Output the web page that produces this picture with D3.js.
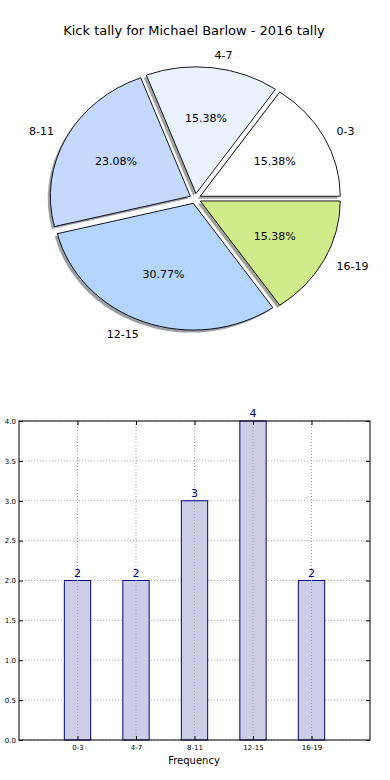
<!DOCTYPE html>
<html><head><meta charset="utf-8">
<script src="https://cdn.jsdelivr.net/npm/d3@7"></script>
<style>body{margin:0;background:#fff}svg{display:block;font-family:"DejaVu Sans",sans-serif}</style>
</head><body>
<svg id="c" width="390" height="780"></svg>
<script>
const title = "Kick tally for Michael Barlow - 2016 tally";
const categories = ["0-3","4-7","8-11","12-15","16-19"];
const counts = [2,2,3,4,2];
const sliceColors = ["#ffffff","#eaf2ff","#c5d9ff","#b4d5ff","#d0eb8a"];
const yTicks = [0,0.5,1,1.5,2,2.5,3,3.5,4];
const xLabel = "Frequency";

const svg = d3.select("#c");
svg.append("text").attr("x",194).attr("y",35).attr("text-anchor","middle")
  .attr("font-size",13).attr("fill","#000").text(title);

// ---- Pie ----
const cx = 195.3, cy = 198.6, R = 140, ky = 0.905, explode = 5.6;
const total = d3.sum(counts);
// matplotlib style: start at 0 rad (3 o'clock) counter-clockwise
const pie = d3.pie().sort(null).value(d=>d)
  .startAngle(Math.PI/2).endAngle(Math.PI/2 - 2*Math.PI);
const arcs = pie(counts);
const arcGen = d3.arc().innerRadius(0).outerRadius(R);
const g = svg.append("g").attr("transform",`translate(${cx},${cy}) scale(1,${ky})`);
// shadows
arcs.forEach((a,i)=>{
  const mid = (a.startAngle+a.endAngle)/2;
  const ox = Math.sin(mid)*explode, oy = -Math.cos(mid)*explode;
  const c = d3.color(sliceColors[i]);
  const sc = d3.rgb(c.r*0.3,c.g*0.3,c.b*0.3);
  g.append("path").attr("d",arcGen(a))
    .attr("transform",`translate(${ox-2.6},${oy+2.8})`)
    .attr("fill",sc).attr("fill-opacity",0.5).attr("stroke","none");
});
arcs.forEach((a,i)=>{
  const mid = (a.startAngle+a.endAngle)/2;
  const ox = Math.sin(mid)*explode, oy = -Math.cos(mid)*explode;
  g.append("path").attr("d",arcGen(a))
    .attr("transform",`translate(${ox},${oy})`)
    .attr("fill",sliceColors[i]).attr("stroke","#000").attr("stroke-width",0.9)
    .attr("vector-effect","non-scaling-stroke").attr("stroke-linejoin","round");
});
arcs.forEach((a,i)=>{
  const mid = (a.startAngle+a.endAngle)/2;
  const ox = Math.sin(mid)*explode, oy = -Math.cos(mid)*explode;
  const lx = cx + ox + Math.sin(mid)*R*1.1;
  const ly = cy + (oy - Math.cos(mid)*R*1.1)*ky;
  svg.append("text").attr("x",lx).attr("y",ly).attr("dy","0.35em")
    .attr("text-anchor", Math.sin(mid)>0 ? "start" : "end")
    .attr("font-size",11).attr("fill","#000").text(categories[i]);
  const px = cx + ox + Math.sin(mid)*R*0.6;
  const py = cy + (oy - Math.cos(mid)*R*0.6)*ky;
  svg.append("text").attr("x",px).attr("y",py).attr("dy","0.35em")
    .attr("text-anchor","middle").attr("font-size",11).attr("fill","#000")
    .text((counts[i]/total*100).toFixed(2)+"%");
});

// ---- Bar chart ----
const L = 19, Rt = 370, T = 421, B = 740;
const x = d3.scaleLinear().domain([-1,5]).range([L,Rt]);
const y = d3.scaleLinear().domain([0,4]).range([B,T]);
const bw = x(0.45)-x(0);
const bg = svg.append("g");
// grid
bg.selectAll(".gy").data(yTicks).enter().append("line")
  .attr("x1",L).attr("x2",Rt).attr("y1",d=>y(d)).attr("y2",d=>y(d))
  .attr("stroke","#b0b0b0").attr("stroke-width",1).attr("stroke-dasharray","1,2");
// bars
bg.selectAll(".bar").data(counts).enter().append("rect")
  .attr("x",(d,i)=>x(i)-bw/2).attr("width",bw)
  .attr("y",d=>y(d)).attr("height",d=>B-y(d))
  .attr("fill","#cdcde6").attr("stroke","#00008b").attr("stroke-width",1);
bg.selectAll(".gx").data(categories).enter().append("line")
  .attr("x1",(d,i)=>x(i)).attr("x2",(d,i)=>x(i)).attr("y1",T).attr("y2",B)
  .attr("stroke","#a0a0a0").attr("stroke-width",1).attr("stroke-dasharray","1,2");
// value labels
bg.selectAll(".vl").data(counts).enter().append("text")
  .attr("x",(d,i)=>x(i)).attr("y",d=>y(d)-4).attr("text-anchor","middle")
  .attr("font-size",11).attr("fill","#00008b").text(d=>d);
// axes
const yAxis = d3.axisLeft(y).tickValues(yTicks).tickFormat(d3.format(".1f")).tickSize(-4).tickPadding(3);
bg.append("g").attr("transform",`translate(${L},0)`).call(yAxis);
const yAxisR = d3.axisRight(y).tickValues(yTicks).tickFormat("").tickSize(-4);
bg.append("g").attr("transform",`translate(${Rt},0)`).call(yAxisR);
const xAxis = d3.axisBottom(x).tickValues([0,1,2,3,4]).tickFormat((d)=>categories[d]).tickSize(-4).tickPadding(5);
bg.append("g").attr("transform",`translate(0,${B})`).call(xAxis);
const xAxisT = d3.axisTop(x).tickValues([0,1,2,3,4]).tickFormat("").tickSize(-4);
bg.append("g").attr("transform",`translate(0,${T})`).call(xAxisT);
bg.selectAll(".domain").remove();
bg.selectAll(".tick line").attr("stroke","#000");
bg.selectAll(".tick text").attr("font-size",7).attr("font-family","DejaVu Sans, sans-serif").attr("fill","#000");
bg.append("rect").attr("x",L).attr("y",T).attr("width",Rt-L).attr("height",B-T)
  .attr("fill","none").attr("stroke","#000").attr("stroke-width",1);
svg.append("text").attr("x",194).attr("y",764).attr("text-anchor","middle")
  .attr("font-size",10).attr("fill","#000").text(xLabel);
</script>
</body></html>
